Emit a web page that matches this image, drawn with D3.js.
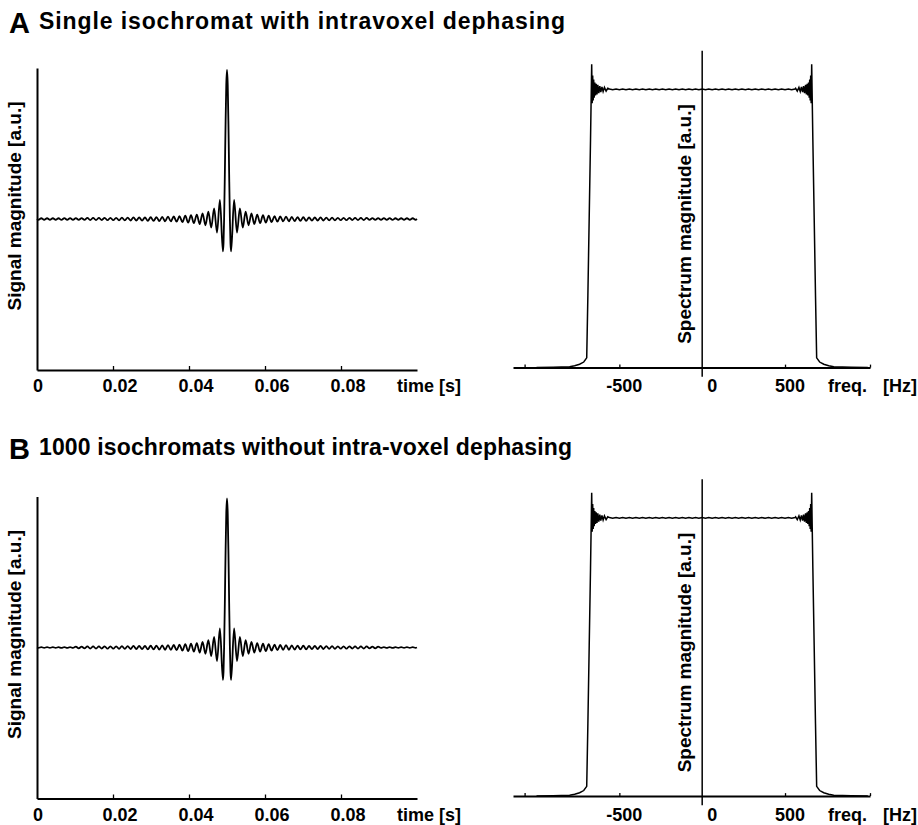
<!DOCTYPE html>
<html>
<head>
<meta charset="utf-8">
<script src="https://cdn.jsdelivr.net/npm/d3@7"></script>
<style>
  body { margin: 0; background: #fff; }
  text { font-family: "Liberation Sans", Arial, Helvetica, sans-serif; font-weight: bold; fill: #000; }
</style>
</head>
<body>
<div id="vis"></div>
<script>
// panel titles
var panelLetters = ["A", "B"];
var panelTitles = ["Single isochromat with intravoxel dephasing",
                   "1000 isochromats without intra-voxel dephasing"];

// time axis
var timeTicks = [0, 0.02, 0.04, 0.06, 0.08];
var timeTickLabels = ["0", "0.02", "0.04", "0.06", "0.08"];

// frequency axis
var freqTickMarks = [-1072, -500, 500, 1013];
var freqLabelValues = [-500, 0, 500];
var freqTickLabels = ["-500", "0", "500"];

// echo signal: times of the extrema / lobe points [ms]
var sigTimeMs = [0,
  0.38, 1.13, 1.89, 2.65, 3.41, 4.17, 4.92, 5.68, 6.44, 7.20, 7.95, 8.71, 9.47, 10.23, 10.98, 11.74,
  12.50, 13.26, 14.01, 14.77, 15.53, 16.29, 17.04, 17.80, 18.56, 19.32, 20.07, 20.83, 21.59, 22.35,
  23.11, 23.86, 24.62, 25.38, 26.14, 26.89, 27.65, 28.41, 29.17, 29.92, 30.68, 31.44, 32.20, 32.95,
  33.71, 34.47, 35.23, 35.99, 36.74, 37.50, 38.26, 39.02, 39.78, 40.53, 41.29, 42.05, 42.81, 43.57,
  44.33, 45.09, 45.85, 46.61, 47.37, 48.14, 48.92,
  49.08, 49.24, 49.43, 49.62, 49.81, 50.00, 50.19, 50.38, 50.57, 50.76, 50.92,
  51.08, 51.86, 52.63, 53.39, 54.15, 54.91, 55.67, 56.43, 57.19, 57.95, 58.71, 59.47, 60.22, 60.98,
  61.74, 62.50, 63.26, 64.01, 64.77, 65.53, 66.29, 67.05, 67.80, 68.56, 69.32, 70.08, 70.83, 71.59,
  72.35, 73.11, 73.86, 74.62, 75.38, 76.14, 76.89, 77.65, 78.41, 79.17, 79.93, 80.68, 81.44, 82.20,
  82.96, 83.71, 84.47, 85.23, 85.99, 86.74, 87.50, 88.26, 89.02, 89.77, 90.53, 91.29, 92.05, 92.80,
  93.56, 94.32, 95.08, 95.83, 96.59, 97.35, 98.11, 98.87, 99.62,
  100];

var sigA = [0,
  -.005,.005,-.005,.005,-.005,.005,-.005,.005,-.006,.006,-.006,.006,-.006,.006,-.006,.006,-.006,
  .007,-.007,.007,-.007,.007,-.007,.008,-.008,.008,-.008,.008,-.009,.009,-.009,.009,-.010,.010,-.010,
  .011,-.011,.011,-.012,.012,-.013,.013,-.014,.014,-.015,.016,-.016,.017,-.018,.019,-.021,.022,-.024,
  .025,-.028,.030,-.034,.037,-.042,.049,-.058,.071,-.091,.128,-.217,
  -.164, 0, .297, .634, .90, 1, .90, .634, .297, 0, -.164,
  -.217,.128,-.091,.071,-.058,.049,-.042,.037,-.034,.030,-.028,.025,-.024,.022,-.021,.019,-.018,.017,
  -.016,.016,-.015,.014,-.014,.013,-.013,.012,-.012,.011,-.011,.011,-.010,.010,-.010,.009,-.009,.009,
  -.009,.008,-.008,.008,-.008,.008,-.007,.007,-.007,.007,-.007,.007,-.006,.006,-.006,.006,-.006,.006,
  -.006,.006,-.006,.005,-.005,.005,-.005,.005,-.005,.005,-.005,
  0];

var sigB = [0,
  -.002,.002,-.002,.002,-.002,.002,-.002,.002,-.003,.003,-.003,.003,-.003,.006,-.006,.006,-.006,
  .007,-.007,.007,-.007,.007,-.007,.008,-.008,.008,-.008,.008,-.009,.009,-.009,.009,-.010,.010,-.010,
  .011,-.011,.011,-.012,.012,-.013,.013,-.014,.014,-.015,.016,-.016,.017,-.018,.019,-.021,.022,-.024,
  .025,-.028,.030,-.034,.037,-.042,.049,-.058,.071,-.091,.128,-.217,
  -.164, 0, .297, .634, .90, 1, .90, .634, .297, 0, -.164,
  -.217,.128,-.091,.071,-.058,.049,-.042,.037,-.034,.030,-.028,.025,-.024,.022,-.021,.019,-.018,.017,
  -.016,.016,-.015,.014,-.014,.013,-.013,.012,-.012,.011,-.011,.011,-.010,.010,-.010,.009,-.009,.009,
  -.009,.008,-.008,.008,-.008,.008,-.007,.007,-.007,.007,-.007,.007,-.006,.006,-.006,.006,-.003,.003,
  -.003,.003,-.003,.002,-.002,.002,-.002,.002,-.002,.002,-.002,
  0];

// spectrum [Hz] and magnitude
var specFreq = [-1000, -900, -800, -770, -740, -715, -697, -690, -682, -674, -667,
  -664, -661, -658, -655, -652, -648, -644, -640, -635, -630, -624, -618, -612, -605, -598, -590, -580, -570,
  -560, -540, -520, -500, -480, -460, -440, -420, -400, -380, -360, -340, -320, -300, -280, -260, -240,
  -220, -200, -180, -160, -140, -120, -100, -80, -60, -40, -20, 0, 20, 40, 60, 80, 100, 120, 140, 160,
  180, 200, 220, 240, 260, 280, 300, 320, 340, 360, 380, 400, 420, 440, 460, 480, 500, 520, 540, 560,
  564, 574, 584, 592, 599, 606, 612, 618, 624, 629, 634, 638, 642, 646, 649, 652, 655, 658,
  661, 668, 676, 684, 691, 709, 734, 764, 794, 900, 1000];

var specA = [0, .001, .003, .007, .012, .02, .035, .26, .54, .82, 1.09,
  .95, 1.05, .96, 1.035, .97, 1.025, .978, 1.02, .982, 1.016, .986, 1.012, .99, 1.009, .992, 1.007, .994, 1.004,
  1.0015, .9985, 1.0015, .9985, 1.0015, .9985, 1.0015, .9985, 1.0015, .9985, 1.0015, .9985, 1.0015, .9985, 1.0015, .9985, 1.0015,
  .9985, 1.0015, .9985, 1.0015, .9985, 1.0015, .9985, 1.0015, .9985, 1.0015, .9985, 1.0015, .9985, 1.0015, .9985, 1.0015,
  .9985, 1.0015, .9985, 1.0015, .9985, 1.0015, .9985, 1.0015, .9985, 1.0015, .9985, 1.0015, .9985, 1.0015, .9985, 1.0015,
  .9985, 1.0015, .9985, 1.0015, .9985, 1.0015, .9985, 1.0015,
  1.004, .994, 1.007, .992, 1.009, .99, 1.012, .986, 1.016, .982, 1.02, .978, 1.025, .97, 1.035, .96, 1.05, .95,
  1.09, .82, .54, .26, .035, .02, .012, .007, .003, .001, 0];

var specB = [0, .001, .003, .007, .012, .02, .035, .26, .54, .82, 1.09,
  .95, 1.05, .96, 1.035, .97, 1.025, .978, 1.02, .982, 1.016, .986, 1.012, .99, 1.009, .992, 1.007, .994, 1.004,
  1.001, .999, 1.001, .999, 1.001, .999, 1.001, .999, 1.001, .999, 1.001, .999, 1.001, .999, 1.001, .999, 1.001,
  .999, 1.001, .999, 1.001, .999, 1.001, .999, 1.001, .999, 1.001, .999, 1.001, .999, 1.001, .999, 1.001,
  .999, 1.001, .999, 1.001, .999, 1.001, .999, 1.001, .999, 1.001, .999, 1.001, .999, 1.001, .999, 1.001,
  .999, 1.001, .999, 1.001, .999, 1.001, .999, 1.001,
  1.004, .994, 1.007, .992, 1.009, .99, 1.012, .986, 1.016, .982, 1.02, .978, 1.025, .97, 1.035, .96, 1.05, .95,
  1.09, .82, .54, .26, .035, .02, .012, .007, .003, .001, 0];

var sigSeries = [sigA, sigB];
var specSeries = [specA, specB];

var svg = d3.select("#vis").append("svg")
  .attr("width", 918)
  .attr("height", 825);

function styleAxis(ax, w) {
  ax.selectAll("path.domain").attr("stroke", "#000").attr("stroke-width", w);
  ax.selectAll(".tick line").attr("stroke", "#000").attr("stroke-width", 1.3);
}

function drawTime(g, vals) {
  var x = d3.scaleLinear().domain([0, 0.1]).range([37, 417]);
  var y = d3.scaleLinear().domain([-1.013, 1.013]).range([370, 68]);

  var xa = g.append("g").attr("transform", "translate(0," + y.range()[0] + ")")
    .call(d3.axisBottom(x).tickValues(timeTicks.slice(1)).tickSizeInner(-4).tickSizeOuter(0).tickFormat(""));
  styleAxis(xa, 2);
  var ya = g.append("g").attr("transform", "translate(" + x.range()[0] + ",0)")
    .call(d3.axisLeft(y).tickValues([]).tickSizeOuter(0));
  styleAxis(ya, 2);

  var line = d3.line()
    .x(function(d) { return x(d[0] / 1000); })
    .y(function(d) { return y(d[1]); })
    .curve(d3.curveMonotoneX);
  g.append("path")
    .datum(d3.zip(sigTimeMs, vals))
    .attr("d", line)
    .attr("fill", "none")
    .attr("stroke", "#000")
    .attr("stroke-width", 1.8);

  g.selectAll("text.tl").data(timeTicks).join("text")
    .attr("class", "tl")
    .attr("x", function(d, i) { return x(d) + (i ? 7 : 1); })
    .attr("y", 392)
    .attr("text-anchor", "middle")
    .style("font-size", "18px")
    .text(function(d, i) { return timeTickLabels[i]; });

  g.append("text").attr("x", 397).attr("y", 392)
    .style("font-size", "18px").text("time [s]");

  g.append("text")
    .attr("transform", "translate(20.5,206) rotate(-90)")
    .attr("text-anchor", "middle")
    .style("font-size", "19px")
    .text("Signal magnitude [a.u.]");
}

function drawSpec(g, vals) {
  var x = d3.scaleLinear().domain([-1142, 1013]).range([513, 870]);
  var y = d3.scaleLinear().domain([-0.0327, 1.139]).range([376.7, 50.7]);

  var xa = g.append("g").attr("transform", "translate(0," + y(0) + ")")
    .call(d3.axisBottom(x).tickValues(freqTickMarks).tickSizeInner(-3).tickSizeOuter(0).tickFormat(""));
  styleAxis(xa, 2);

  g.append("line")
    .attr("x1", x(0)).attr("x2", x(0))
    .attr("y1", y.range()[1]).attr("y2", y.range()[0])
    .attr("stroke", "#000").attr("stroke-width", 1.5);

  var line = d3.line()
    .x(function(d) { return x(d[0]); })
    .y(function(d) { return y(d[1]); });
  g.append("path")
    .datum(d3.zip(specFreq, vals))
    .attr("d", line)
    .attr("fill", "none")
    .attr("stroke", "#000")
    .attr("stroke-width", 1.5);

  g.selectAll("text.fl").data(freqLabelValues).join("text")
    .attr("class", "fl")
    .attr("x", function(d) { return x(d) + (d === 0 ? 10 : 5); })
    .attr("y", 392)
    .attr("text-anchor", "middle")
    .style("font-size", "18px")
    .text(function(d, i) { return freqTickLabels[i]; });

  g.append("text").attr("x", 828).attr("y", 392).style("font-size", "18px").text("freq.");
  g.append("text").attr("x", 883).attr("y", 392).style("font-size", "18px").text("[Hz]");

  g.append("text")
    .attr("transform", "translate(690.5,224) rotate(-90)")
    .attr("text-anchor", "middle")
    .style("font-size", "19px")
    .text("Spectrum magnitude [a.u.]");
}

var panelShift = [0, 428.5];
var titleShift = [0, 426];
var titleWidth = [526, 533];

panelLetters.forEach(function(letter, i) {
  var t = svg.append("g").attr("transform", "translate(0," + titleShift[i] + ")");
  t.append("text").attr("x", 9).attr("y", 33).style("font-size", "29px").text(letter);
  t.append("text").attr("x", 39).attr("y", 29)
    .attr("textLength", titleWidth[i]).attr("lengthAdjust", "spacing")
    .style("font-size", "23px")
    .text(panelTitles[i]);

  var g = svg.append("g").attr("transform", "translate(0," + panelShift[i] + ")");
  drawTime(g, sigSeries[i]);
  drawSpec(g, specSeries[i]);
});
</script>
</body>
</html>
